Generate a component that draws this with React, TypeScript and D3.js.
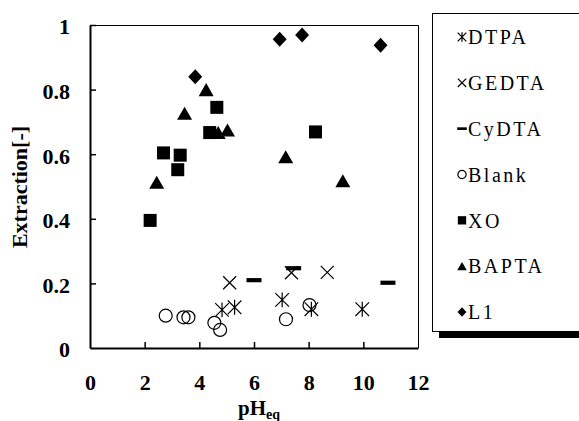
import React, { useEffect, useRef } from 'react';
import * as d3 from 'd3';

// data: [pH_eq, extraction]
const dtpa = [[4.83, 0.118], [5.29, 0.126], [7.03, 0.149], [8.1, 0.12], [9.96, 0.12]];
const gedta = [[5.11, 0.202], [7.37, 0.233], [8.68, 0.234]];
const cydta = [[6.0, 0.21], [7.45, 0.247], [10.9, 0.202]];
const blank = [[2.77, 0.1], [3.42, 0.095], [3.6, 0.095], [4.55, 0.078], [4.76, 0.056], [7.17, 0.089], [8.03, 0.133]];
const xo = [[2.2, 0.395], [2.69, 0.604], [3.21, 0.552], [3.3, 0.597], [4.38, 0.667], [4.64, 0.745], [8.25, 0.669]];
const bapta = [[2.44, 0.513], [3.46, 0.727], [4.25, 0.8], [4.69, 0.667], [5.03, 0.675], [7.16, 0.592], [9.25, 0.518]];
const l1 = [[3.85, 0.84], [6.94, 0.956], [7.76, 0.969], [10.63, 0.937]];

const seriesNames = ['DTPA', 'GEDTA', 'CyDTA', 'Blank', 'XO', 'BAPTA', 'L1'];
const xTicks = [0, 2, 4, 6, 8, 10, 12];
const yTicks = [0, 0.2, 0.4, 0.6, 0.8, 1];

// marker shapes, "size" is used as half-width in px
const star = { draw(c, r) { c.moveTo(-r, -r); c.lineTo(r, r); c.moveTo(-r, r); c.lineTo(r, -r); c.moveTo(0, -r * 1.1); c.lineTo(0, r * 1.1); } };
const cross = { draw(c, r) { c.moveTo(-r, -r); c.lineTo(r, r); c.moveTo(-r, r); c.lineTo(r, -r); } };
const dash = { draw(c, r) { c.rect(-r, -r * 0.28, r * 2, r * 0.56); } };
const ring = { draw(c, r) { c.moveTo(r, 0); c.arc(0, 0, r, 0, Math.PI * 2); } };
const square = { draw(c, r) { c.rect(-r, -r, r * 2, r * 2); } };
const triangle = { draw(c, r) { c.moveTo(0, -r * 0.87); c.lineTo(r, r * 0.87); c.lineTo(-r, r * 0.87); c.closePath(); } };
const diamond = { draw(c, r) { c.moveTo(0, -r); c.lineTo(r * 0.93, 0); c.lineTo(0, r); c.lineTo(-r * 0.93, 0); c.closePath(); } };

const FONT = 'Liberation Serif, serif';

const App = () => {
  const ref = useRef(null);

  useEffect(() => {
    const width = 579;
    const height = 421;

    const series = [
      { name: seriesNames[0], pts: dtpa, shape: star, r: 6.8, filled: false },
      { name: seriesNames[1], pts: gedta, shape: cross, r: 6.5, filled: false },
      { name: seriesNames[2], pts: cydta, shape: dash, r: 7.5, filled: true },
      { name: seriesNames[3], pts: blank, shape: ring, r: 6.5, filled: false },
      { name: seriesNames[4], pts: xo, shape: square, r: 6.5, filled: true },
      { name: seriesNames[5], pts: bapta, shape: triangle, r: 7.5, filled: true },
      { name: seriesNames[6], pts: l1, shape: diamond, r: 7.5, filled: true },
    ];

    const x = d3.scaleLinear().domain([0, 12]).range([90, 418]);
    const y = d3.scaleLinear().domain([0, 1]).range([348, 25]);

    const svg = d3.select(ref.current);
    svg.selectAll('*').remove();
    svg.attr('width', width).attr('height', height);

    svg.append('rect').attr('width', width).attr('height', height).attr('fill', '#fff');

    // thin frame on top and right
    svg.append('path')
      .attr('d', `M${x(0)},${y(1) + 0.5}H${x(12) + 0.5}V${y(0)}`)
      .attr('fill', 'none')
      .attr('stroke', '#000')
      .attr('stroke-width', 1);

    const fmt = d3.format('~g');

    // x axis
    const gx = svg.append('g')
      .attr('transform', `translate(0,${y(0)})`)
      .call(d3.axisBottom(x).tickValues(xTicks).tickFormat(fmt).tickSizeInner(-6).tickSizeOuter(0).tickPadding(26));
    gx.attr('font-family', FONT).attr('font-size', 22).attr('font-weight', 'bold');
    gx.select('.domain').attr('stroke-width', 2);
    gx.selectAll('.tick line').attr('stroke-width', 1.5).filter(d => d === 0 || d === 12).remove();
    gx.selectAll('text').attr('fill', '#000');

    // y axis
    const gy = svg.append('g')
      .attr('transform', `translate(${x(0)},0)`)
      .call(d3.axisLeft(y).tickValues(yTicks).tickFormat(fmt).tickSizeInner(-6).tickSizeOuter(0).tickPadding(20));
    gy.attr('font-family', FONT).attr('font-size', 22).attr('font-weight', 'bold');
    gy.select('.domain').attr('stroke-width', 2);
    gy.selectAll('.tick line').attr('stroke-width', 1.5).filter(d => d === 0).remove();
    gy.selectAll('text').attr('fill', '#000').attr('dy', '0.4em');

    // axis titles
    const xt = svg.append('text')
      .attr('x', 259)
      .attr('y', 415)
      .attr('text-anchor', 'middle')
      .attr('font-family', FONT)
      .attr('font-size', 21)
      .attr('font-weight', 'bold');
    xt.append('tspan').text('pH');
    xt.append('tspan').attr('font-size', 14).attr('dy', 4).text('eq');

    svg.append('text')
      .attr('transform', 'translate(27,187) rotate(-90)')
      .attr('text-anchor', 'middle')
      .attr('font-family', FONT)
      .attr('font-size', 22)
      .attr('font-weight', 'bold')
      .text('Extraction[-]');

    // points
    series.forEach(s => {
      const sym = d3.symbol().type(s.shape).size(s.r);
      svg.append('g')
        .selectAll('path')
        .data(s.pts)
        .join('path')
        .attr('transform', d => `translate(${x(d[0])},${y(d[1])})`)
        .attr('d', sym())
        .attr('fill', s.filled ? '#000' : 'none')
        .attr('stroke', s.filled ? 'none' : '#000')
        .attr('stroke-width', 1.2);
    });

    // legend with drop shadow
    const lx = 432;
    const ly = 13;
    const lh = 318;
    svg.append('rect').attr('x', lx + 7).attr('y', ly + 7).attr('width', 200).attr('height', lh).attr('fill', '#000');
    svg.append('rect').attr('x', lx + 0.5).attr('y', ly + 0.5).attr('width', 200).attr('height', lh).attr('fill', '#fff').attr('stroke', '#000');

    const ls = d3.scalePoint().domain(seriesNames).range([37, 312]);
    const item = svg.append('g')
      .selectAll('g')
      .data(series)
      .join('g')
      .attr('transform', d => `translate(462,${ls(d.name)})`);
    item.append('path')
      .attr('d', d => d3.symbol().type(d.shape).size(d.r * 0.64)())
      .attr('fill', d => (d.filled ? '#000' : 'none'))
      .attr('stroke', d => (d.filled ? 'none' : '#000'))
      .attr('stroke-width', 1.2);
    item.append('text')
      .attr('x', 6)
      .attr('dy', '0.36em')
      .attr('font-family', FONT)
      .attr('font-size', 20)
      .attr('letter-spacing', 2.5)
      .text(d => d.name);
  }, []);

  return (
    <svg ref={ref} style={{ position: 'absolute', left: 0, top: 0, display: 'block' }} />
  );
};

export default App;
